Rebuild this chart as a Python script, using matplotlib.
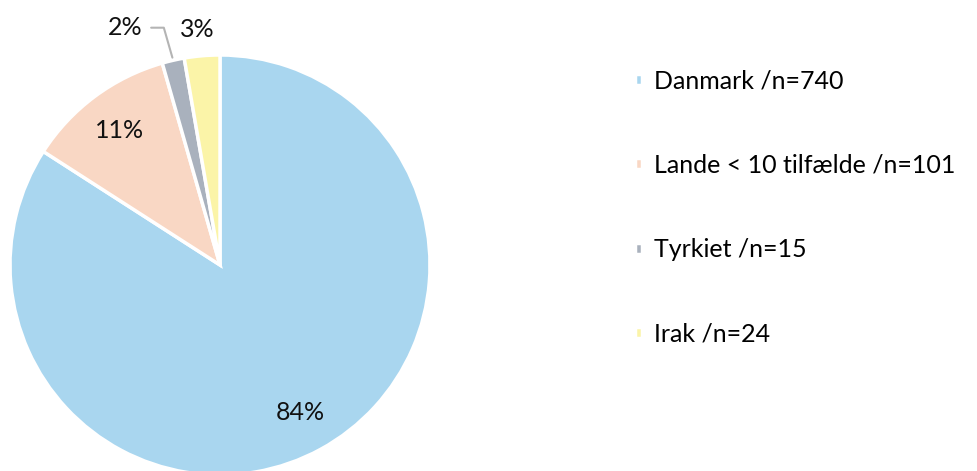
import matplotlib

matplotlib.use("Agg")

import matplotlib.pyplot as plt
import numpy as np

plt.rcParams["font.family"] = ["Lato", "DejaVu Sans"]

labels = ["Danmark /n=740", "Lande < 10 tilfælde /n=101", "Tyrkiet /n=15", "Irak /n=24"]
counts = [740, 101, 15, 24]
colors = ["#a9d6ef", "#f9d7c4", "#a9b1bd", "#fbf4a8"]

fig = plt.figure(figsize=(9.78, 4.71), dpi=100)
cx, cy, r = 220, 265, 210
ax = fig.add_axes([(cx - r) / 978, (471 - cy - r) / 471, 2 * r / 978, 2 * r / 471])

wedges, _, autotexts = ax.pie(
    counts,
    colors=colors,
    startangle=90,
    counterclock=False,
    autopct=lambda p: f"{p:.0f}%",
    pctdistance=0.8,
    radius=1.0,
    wedgeprops=dict(edgecolor="white", linewidth=2.5),
    textprops=dict(fontsize=18, color="#111111"),
)
ax.set_xlim(-1, 1)
ax.set_ylim(-1, 1)
ax.set_aspect("equal")

# small slices: labels outside, 2% with a leader line
for t in autotexts[2:]:
    t.set_visible(False)
w = wedges[2]
mid = np.deg2rad((w.theta1 + w.theta2) / 2)
ax.annotate(
    autotexts[2].get_text(),
    xy=(np.cos(mid), np.sin(mid)),
    xytext=(-0.45, 1.13),
    ha="center", va="center", fontsize=18, color="#111111",
    arrowprops=dict(arrowstyle="-", color="#b4b4b4", lw=1.5,
                    connectionstyle="angle,angleA=0,angleB=106,rad=0",
                    shrinkA=4, shrinkB=2),
    annotation_clip=False,
)
ax.text(-0.11, 1.12, autotexts[3].get_text(), ha="center", va="center", fontsize=18, color="#111111")

fig.legend(
    wedges, labels,
    loc="upper left", bbox_to_anchor=(612 / 978, 1 - 47 / 471),
    frameon=False, fontsize=18,
    handlelength=0.3, handleheight=0.3, handletextpad=0.5,
    labelspacing=2.45,
)

fig.savefig("out.png", dpi=100)
